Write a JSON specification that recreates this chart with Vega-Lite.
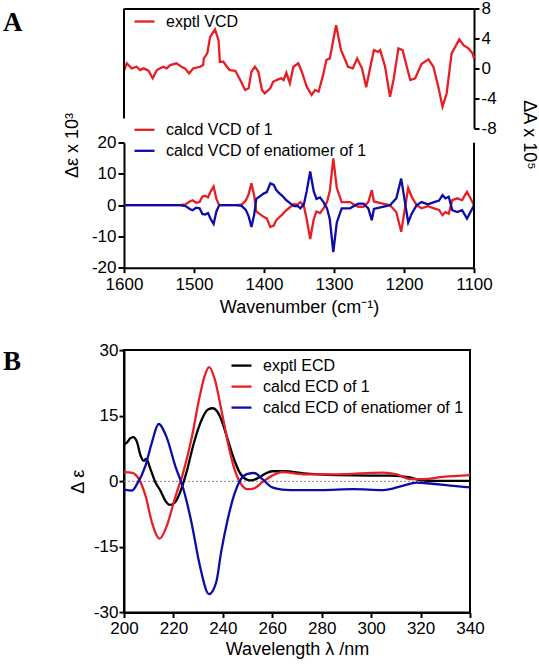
{
  "$schema": "https://vega.github.io/schema/vega-lite/v6.json",
  "autosize": {"type": "none"},
  "padding": {"left": 124, "top": 8.5, "right": 415, "bottom": 656.5},
  "background": "white",
  "bounds": "flush",
  "spacing": 81.6,
  "config": {
    "view": {"stroke": null},
    "axis": {"labelFont": "Liberation Sans", "labelFontSize": 17, "labelColor": "black", "titleFont": "Liberation Sans", "titleFontSize": 18, "titleFontWeight": "normal", "titleColor": "black", "domainColor": "black", "domainWidth": 2, "tickColor": "black", "tickWidth": 2, "tickSize": 5, "grid": false, "labelFlush": false, "labelExpr": "replace(datum.label, '−', '-')"},
    "legend": {"orient": "none", "labelFont": "Liberation Sans", "labelFontSize": 16, "labelColor": "black", "symbolType": "stroke", "symbolStrokeWidth": 2.5, "symbolSize": 400, "labelOffset": 10, "rowPadding": 1, "padding": 0, "labelLimit": 400},
    "line": {"strokeWidth": 2.3}
  },
  "resolve": {"scale": {"color": "independent"}, "legend": {"color": "independent"}},
  "datasets": {
    "exptl": [
      {"wn": 1600, "v": -0.32, "s": "exptl VCD"}, {"wn": 1596, "v": 0.67, "s": "exptl VCD"}, {"wn": 1589, "v": 0, "s": "exptl VCD"}, {"wn": 1582, "v": 0.21, "s": "exptl VCD"}, {"wn": 1577, "v": -0.23, "s": "exptl VCD"}, {"wn": 1572, "v": 0, "s": "exptl VCD"}, {"wn": 1565, "v": -0.32, "s": "exptl VCD"}, {"wn": 1559, "v": -1.33, "s": "exptl VCD"}, {"wn": 1553, "v": -0.23, "s": "exptl VCD"}, {"wn": 1544, "v": 0.21, "s": "exptl VCD"}, {"wn": 1539, "v": 0, "s": "exptl VCD"}, {"wn": 1534, "v": 0.44, "s": "exptl VCD"}, {"wn": 1525, "v": 0.67, "s": "exptl VCD"}, {"wn": 1518, "v": 0.21, "s": "exptl VCD"}, {"wn": 1513, "v": 0, "s": "exptl VCD"}, {"wn": 1507, "v": -0.67, "s": "exptl VCD"}, {"wn": 1501, "v": 0, "s": "exptl VCD"}, {"wn": 1491, "v": 0.21, "s": "exptl VCD"}, {"wn": 1487, "v": 0.44, "s": "exptl VCD"}, {"wn": 1486, "v": 1.33, "s": "exptl VCD"}, {"wn": 1481, "v": 2.0, "s": "exptl VCD"}, {"wn": 1477, "v": 4.21, "s": "exptl VCD"}, {"wn": 1470, "v": 5.2, "s": "exptl VCD"}, {"wn": 1465, "v": 3.77, "s": "exptl VCD"}, {"wn": 1463, "v": 0.88, "s": "exptl VCD"}, {"wn": 1458, "v": 0.88, "s": "exptl VCD"}, {"wn": 1453, "v": 0.21, "s": "exptl VCD"}, {"wn": 1449, "v": -0.23, "s": "exptl VCD"}, {"wn": 1441, "v": -0.32, "s": "exptl VCD"}, {"wn": 1434, "v": -1.56, "s": "exptl VCD"}, {"wn": 1427, "v": -2.89, "s": "exptl VCD"}, {"wn": 1422, "v": -2.67, "s": "exptl VCD"}, {"wn": 1418, "v": -0.45, "s": "exptl VCD"}, {"wn": 1413, "v": 0.21, "s": "exptl VCD"}, {"wn": 1408, "v": -0.45, "s": "exptl VCD"}, {"wn": 1403, "v": -2.89, "s": "exptl VCD"}, {"wn": 1399, "v": -3.33, "s": "exptl VCD"}, {"wn": 1391, "v": -2.67, "s": "exptl VCD"}, {"wn": 1387, "v": -1.79, "s": "exptl VCD"}, {"wn": 1380, "v": -1.47, "s": "exptl VCD"}, {"wn": 1375, "v": -1.33, "s": "exptl VCD"}, {"wn": 1372, "v": -1.56, "s": "exptl VCD"}, {"wn": 1368, "v": -0.59, "s": "exptl VCD"}, {"wn": 1363, "v": -2.0, "s": "exptl VCD"}, {"wn": 1358, "v": 0.21, "s": "exptl VCD"}, {"wn": 1351, "v": 0.67, "s": "exptl VCD"}, {"wn": 1346, "v": -0.45, "s": "exptl VCD"}, {"wn": 1339, "v": -2.45, "s": "exptl VCD"}, {"wn": 1332, "v": -3.56, "s": "exptl VCD"}, {"wn": 1327, "v": -2.89, "s": "exptl VCD"}, {"wn": 1322, "v": -3.12, "s": "exptl VCD"}, {"wn": 1315, "v": -0.67, "s": "exptl VCD"}, {"wn": 1311, "v": 1.11, "s": "exptl VCD"}, {"wn": 1306, "v": 1.33, "s": "exptl VCD"}, {"wn": 1297, "v": 5.77, "s": "exptl VCD"}, {"wn": 1290, "v": 2.44, "s": "exptl VCD"}, {"wn": 1284, "v": 1.11, "s": "exptl VCD"}, {"wn": 1280, "v": 0.21, "s": "exptl VCD"}, {"wn": 1273, "v": 0, "s": "exptl VCD"}, {"wn": 1267, "v": 1.33, "s": "exptl VCD"}, {"wn": 1260, "v": 0, "s": "exptl VCD"}, {"wn": 1254, "v": -2.53, "s": "exptl VCD"}, {"wn": 1249, "v": -0.23, "s": "exptl VCD"}, {"wn": 1243, "v": 2.44, "s": "exptl VCD"}, {"wn": 1237, "v": 2.21, "s": "exptl VCD"}, {"wn": 1234, "v": 2.44, "s": "exptl VCD"}, {"wn": 1227, "v": 0.21, "s": "exptl VCD"}, {"wn": 1220, "v": -3.79, "s": "exptl VCD"}, {"wn": 1215, "v": -1.56, "s": "exptl VCD"}, {"wn": 1208, "v": 2.67, "s": "exptl VCD"}, {"wn": 1202, "v": 2.44, "s": "exptl VCD"}, {"wn": 1196, "v": 0.21, "s": "exptl VCD"}, {"wn": 1191, "v": -1.56, "s": "exptl VCD"}, {"wn": 1184, "v": -1.33, "s": "exptl VCD"}, {"wn": 1175, "v": 0.57, "s": "exptl VCD"}, {"wn": 1165, "v": 1.2, "s": "exptl VCD"}, {"wn": 1158, "v": 0.21, "s": "exptl VCD"}, {"wn": 1151, "v": -2.45, "s": "exptl VCD"}, {"wn": 1145, "v": -5.12, "s": "exptl VCD"}, {"wn": 1139, "v": -3.33, "s": "exptl VCD"}, {"wn": 1132, "v": 2.0, "s": "exptl VCD"}, {"wn": 1121, "v": 3.87, "s": "exptl VCD"}, {"wn": 1115, "v": 3.11, "s": "exptl VCD"}, {"wn": 1108, "v": 2.67, "s": "exptl VCD"}, {"wn": 1102, "v": 2.0, "s": "exptl VCD"}, {"wn": 1100, "v": 1.33, "s": "exptl VCD"}
    ],
    "calcd": [
      {"wn": 1600, "v": 0, "s": "calcd VCD of 1"}, {"wn": 1520, "v": 0, "s": "calcd VCD of 1"}, {"wn": 1512, "v": 0.3, "s": "calcd VCD of 1"}, {"wn": 1506, "v": 1.2, "s": "calcd VCD of 1"}, {"wn": 1502, "v": 1.6, "s": "calcd VCD of 1"}, {"wn": 1497, "v": 0.8, "s": "calcd VCD of 1"}, {"wn": 1492, "v": 1.0, "s": "calcd VCD of 1"}, {"wn": 1488, "v": 2.8, "s": "calcd VCD of 1"}, {"wn": 1484, "v": 3.0, "s": "calcd VCD of 1"}, {"wn": 1480, "v": 2.5, "s": "calcd VCD of 1"}, {"wn": 1476, "v": 4.5, "s": "calcd VCD of 1"}, {"wn": 1472, "v": 6.0, "s": "calcd VCD of 1"}, {"wn": 1468, "v": 2.0, "s": "calcd VCD of 1"}, {"wn": 1464, "v": 0, "s": "calcd VCD of 1"}, {"wn": 1440, "v": 0, "s": "calcd VCD of 1"}, {"wn": 1432, "v": 0.2, "s": "calcd VCD of 1"}, {"wn": 1426, "v": 1.5, "s": "calcd VCD of 1"}, {"wn": 1422, "v": 3.5, "s": "calcd VCD of 1"}, {"wn": 1418, "v": 7.0, "s": "calcd VCD of 1"}, {"wn": 1414, "v": 3.0, "s": "calcd VCD of 1"}, {"wn": 1411, "v": -2.0, "s": "calcd VCD of 1"}, {"wn": 1405, "v": -3.0, "s": "calcd VCD of 1"}, {"wn": 1400, "v": -3.8, "s": "calcd VCD of 1"}, {"wn": 1396, "v": -4.2, "s": "calcd VCD of 1"}, {"wn": 1391, "v": -7.0, "s": "calcd VCD of 1"}, {"wn": 1386, "v": -6.5, "s": "calcd VCD of 1"}, {"wn": 1383, "v": -5.0, "s": "calcd VCD of 1"}, {"wn": 1379, "v": -4.0, "s": "calcd VCD of 1"}, {"wn": 1374, "v": -3.0, "s": "calcd VCD of 1"}, {"wn": 1369, "v": -1.8, "s": "calcd VCD of 1"}, {"wn": 1362, "v": -0.5, "s": "calcd VCD of 1"}, {"wn": 1357, "v": 0.3, "s": "calcd VCD of 1"}, {"wn": 1352, "v": 0.2, "s": "calcd VCD of 1"}, {"wn": 1348, "v": 1.0, "s": "calcd VCD of 1"}, {"wn": 1343, "v": -0.3, "s": "calcd VCD of 1"}, {"wn": 1339, "v": -4.5, "s": "calcd VCD of 1"}, {"wn": 1334, "v": -10.8, "s": "calcd VCD of 1"}, {"wn": 1329, "v": -4.5, "s": "calcd VCD of 1"}, {"wn": 1325, "v": -2.0, "s": "calcd VCD of 1"}, {"wn": 1320, "v": -2.5, "s": "calcd VCD of 1"}, {"wn": 1315, "v": -1.0, "s": "calcd VCD of 1"}, {"wn": 1310, "v": 1.0, "s": "calcd VCD of 1"}, {"wn": 1306, "v": 4.5, "s": "calcd VCD of 1"}, {"wn": 1301, "v": 15.0, "s": "calcd VCD of 1"}, {"wn": 1296, "v": 5.5, "s": "calcd VCD of 1"}, {"wn": 1289, "v": 1.0, "s": "calcd VCD of 1"}, {"wn": 1277, "v": 1.0, "s": "calcd VCD of 1"}, {"wn": 1270, "v": 0, "s": "calcd VCD of 1"}, {"wn": 1265, "v": -0.5, "s": "calcd VCD of 1"}, {"wn": 1258, "v": -0.5, "s": "calcd VCD of 1"}, {"wn": 1251, "v": 1.0, "s": "calcd VCD of 1"}, {"wn": 1246, "v": 4.8, "s": "calcd VCD of 1"}, {"wn": 1243, "v": 1.2, "s": "calcd VCD of 1"}, {"wn": 1232, "v": 0.6, "s": "calcd VCD of 1"}, {"wn": 1220, "v": 0, "s": "calcd VCD of 1"}, {"wn": 1211, "v": -2.2, "s": "calcd VCD of 1"}, {"wn": 1204, "v": -8.5, "s": "calcd VCD of 1"}, {"wn": 1199, "v": -1.5, "s": "calcd VCD of 1"}, {"wn": 1194, "v": 5.5, "s": "calcd VCD of 1"}, {"wn": 1189, "v": 2.7, "s": "calcd VCD of 1"}, {"wn": 1182, "v": 0, "s": "calcd VCD of 1"}, {"wn": 1175, "v": -1.0, "s": "calcd VCD of 1"}, {"wn": 1166, "v": -0.3, "s": "calcd VCD of 1"}, {"wn": 1157, "v": -1.0, "s": "calcd VCD of 1"}, {"wn": 1150, "v": -1.5, "s": "calcd VCD of 1"}, {"wn": 1145, "v": -3.2, "s": "calcd VCD of 1"}, {"wn": 1141, "v": -2.2, "s": "calcd VCD of 1"}, {"wn": 1136, "v": -2.7, "s": "calcd VCD of 1"}, {"wn": 1131, "v": 1.6, "s": "calcd VCD of 1"}, {"wn": 1124, "v": 2.2, "s": "calcd VCD of 1"}, {"wn": 1117, "v": 1.6, "s": "calcd VCD of 1"}, {"wn": 1110, "v": 4.3, "s": "calcd VCD of 1"}, {"wn": 1105, "v": 2.2, "s": "calcd VCD of 1"}, {"wn": 1100, "v": 0, "s": "calcd VCD of 1"},
      {"wn": 1600, "v": 0, "s": "calcd VCD of enatiomer of 1"}, {"wn": 1520, "v": 0, "s": "calcd VCD of enatiomer of 1"}, {"wn": 1512, "v": -0.3, "s": "calcd VCD of enatiomer of 1"}, {"wn": 1506, "v": -1.2, "s": "calcd VCD of enatiomer of 1"}, {"wn": 1502, "v": -1.6, "s": "calcd VCD of enatiomer of 1"}, {"wn": 1497, "v": -0.8, "s": "calcd VCD of enatiomer of 1"}, {"wn": 1492, "v": -1.0, "s": "calcd VCD of enatiomer of 1"}, {"wn": 1488, "v": -2.8, "s": "calcd VCD of enatiomer of 1"}, {"wn": 1484, "v": -3.0, "s": "calcd VCD of enatiomer of 1"}, {"wn": 1480, "v": -2.5, "s": "calcd VCD of enatiomer of 1"}, {"wn": 1476, "v": -4.5, "s": "calcd VCD of enatiomer of 1"}, {"wn": 1472, "v": -6.0, "s": "calcd VCD of enatiomer of 1"}, {"wn": 1468, "v": -2.0, "s": "calcd VCD of enatiomer of 1"}, {"wn": 1464, "v": 0, "s": "calcd VCD of enatiomer of 1"}, {"wn": 1440, "v": 0, "s": "calcd VCD of enatiomer of 1"}, {"wn": 1432, "v": -0.2, "s": "calcd VCD of enatiomer of 1"}, {"wn": 1426, "v": -1.5, "s": "calcd VCD of enatiomer of 1"}, {"wn": 1422, "v": -3.5, "s": "calcd VCD of enatiomer of 1"}, {"wn": 1418, "v": -7.0, "s": "calcd VCD of enatiomer of 1"}, {"wn": 1414, "v": -3.0, "s": "calcd VCD of enatiomer of 1"}, {"wn": 1411, "v": 2.0, "s": "calcd VCD of enatiomer of 1"}, {"wn": 1405, "v": 3.0, "s": "calcd VCD of enatiomer of 1"}, {"wn": 1400, "v": 3.8, "s": "calcd VCD of enatiomer of 1"}, {"wn": 1396, "v": 4.2, "s": "calcd VCD of enatiomer of 1"}, {"wn": 1391, "v": 7.0, "s": "calcd VCD of enatiomer of 1"}, {"wn": 1386, "v": 6.5, "s": "calcd VCD of enatiomer of 1"}, {"wn": 1383, "v": 5.0, "s": "calcd VCD of enatiomer of 1"}, {"wn": 1379, "v": 4.0, "s": "calcd VCD of enatiomer of 1"}, {"wn": 1374, "v": 3.0, "s": "calcd VCD of enatiomer of 1"}, {"wn": 1369, "v": 1.8, "s": "calcd VCD of enatiomer of 1"}, {"wn": 1362, "v": 0.5, "s": "calcd VCD of enatiomer of 1"}, {"wn": 1357, "v": -0.3, "s": "calcd VCD of enatiomer of 1"}, {"wn": 1352, "v": -0.2, "s": "calcd VCD of enatiomer of 1"}, {"wn": 1348, "v": -1.0, "s": "calcd VCD of enatiomer of 1"}, {"wn": 1343, "v": 0.3, "s": "calcd VCD of enatiomer of 1"}, {"wn": 1339, "v": 4.5, "s": "calcd VCD of enatiomer of 1"}, {"wn": 1334, "v": 10.8, "s": "calcd VCD of enatiomer of 1"}, {"wn": 1329, "v": 4.5, "s": "calcd VCD of enatiomer of 1"}, {"wn": 1325, "v": 2.0, "s": "calcd VCD of enatiomer of 1"}, {"wn": 1320, "v": 2.5, "s": "calcd VCD of enatiomer of 1"}, {"wn": 1315, "v": 1.0, "s": "calcd VCD of enatiomer of 1"}, {"wn": 1310, "v": -1.0, "s": "calcd VCD of enatiomer of 1"}, {"wn": 1306, "v": -4.5, "s": "calcd VCD of enatiomer of 1"}, {"wn": 1301, "v": -15.0, "s": "calcd VCD of enatiomer of 1"}, {"wn": 1296, "v": -5.5, "s": "calcd VCD of enatiomer of 1"}, {"wn": 1289, "v": -1.0, "s": "calcd VCD of enatiomer of 1"}, {"wn": 1277, "v": -1.0, "s": "calcd VCD of enatiomer of 1"}, {"wn": 1270, "v": 0, "s": "calcd VCD of enatiomer of 1"}, {"wn": 1265, "v": 0.5, "s": "calcd VCD of enatiomer of 1"}, {"wn": 1258, "v": 0.5, "s": "calcd VCD of enatiomer of 1"}, {"wn": 1251, "v": -1.0, "s": "calcd VCD of enatiomer of 1"}, {"wn": 1246, "v": -4.8, "s": "calcd VCD of enatiomer of 1"}, {"wn": 1243, "v": -1.2, "s": "calcd VCD of enatiomer of 1"}, {"wn": 1232, "v": -0.6, "s": "calcd VCD of enatiomer of 1"}, {"wn": 1220, "v": 0, "s": "calcd VCD of enatiomer of 1"}, {"wn": 1211, "v": 2.2, "s": "calcd VCD of enatiomer of 1"}, {"wn": 1204, "v": 8.5, "s": "calcd VCD of enatiomer of 1"}, {"wn": 1199, "v": 1.5, "s": "calcd VCD of enatiomer of 1"}, {"wn": 1194, "v": -5.5, "s": "calcd VCD of enatiomer of 1"}, {"wn": 1189, "v": -2.7, "s": "calcd VCD of enatiomer of 1"}, {"wn": 1182, "v": 0, "s": "calcd VCD of enatiomer of 1"}, {"wn": 1175, "v": 1.0, "s": "calcd VCD of enatiomer of 1"}, {"wn": 1166, "v": 0.3, "s": "calcd VCD of enatiomer of 1"}, {"wn": 1157, "v": 1.0, "s": "calcd VCD of enatiomer of 1"}, {"wn": 1150, "v": 1.5, "s": "calcd VCD of enatiomer of 1"}, {"wn": 1145, "v": 3.2, "s": "calcd VCD of enatiomer of 1"}, {"wn": 1141, "v": 2.2, "s": "calcd VCD of enatiomer of 1"}, {"wn": 1136, "v": 2.7, "s": "calcd VCD of enatiomer of 1"}, {"wn": 1131, "v": -1.6, "s": "calcd VCD of enatiomer of 1"}, {"wn": 1124, "v": -2.2, "s": "calcd VCD of enatiomer of 1"}, {"wn": 1117, "v": -1.6, "s": "calcd VCD of enatiomer of 1"}, {"wn": 1110, "v": -4.3, "s": "calcd VCD of enatiomer of 1"}, {"wn": 1105, "v": -2.2, "s": "calcd VCD of enatiomer of 1"}, {"wn": 1100, "v": 0, "s": "calcd VCD of enatiomer of 1"}
    ],
    "ecd": [
      {"wl": 200, "v": 8.5, "s": "exptl ECD"}, {"wl": 201.3, "v": 8.9, "s": "exptl ECD"}, {"wl": 202.5, "v": 9.8, "s": "exptl ECD"}, {"wl": 203.7, "v": 10.1, "s": "exptl ECD"}, {"wl": 205.3, "v": 8.9, "s": "exptl ECD"}, {"wl": 206.7, "v": 5.9, "s": "exptl ECD"}, {"wl": 208, "v": 4.7, "s": "exptl ECD"}, {"wl": 209, "v": 5.1, "s": "exptl ECD"}, {"wl": 210.7, "v": 2.8, "s": "exptl ECD"}, {"wl": 212.7, "v": -0.2, "s": "exptl ECD"}, {"wl": 214.7, "v": -2.1, "s": "exptl ECD"}, {"wl": 216.7, "v": -4.4, "s": "exptl ECD"}, {"wl": 218.7, "v": -5.4, "s": "exptl ECD"}, {"wl": 220.7, "v": -4.8, "s": "exptl ECD"}, {"wl": 222.7, "v": -2.5, "s": "exptl ECD"}, {"wl": 225.3, "v": 2.1, "s": "exptl ECD"}, {"wl": 228, "v": 8.2, "s": "exptl ECD"}, {"wl": 231.3, "v": 13.9, "s": "exptl ECD"}, {"wl": 234, "v": 16.4, "s": "exptl ECD"}, {"wl": 236, "v": 16.7, "s": "exptl ECD"}, {"wl": 238.7, "v": 15.0, "s": "exptl ECD"}, {"wl": 241.3, "v": 10.8, "s": "exptl ECD"}, {"wl": 244, "v": 5.9, "s": "exptl ECD"}, {"wl": 246.7, "v": 2.1, "s": "exptl ECD"}, {"wl": 249.3, "v": 0.5, "s": "exptl ECD"}, {"wl": 251.3, "v": 0.2, "s": "exptl ECD"}, {"wl": 254.7, "v": 0.9, "s": "exptl ECD"}, {"wl": 257.3, "v": 1.8, "s": "exptl ECD"}, {"wl": 260, "v": 2.3, "s": "exptl ECD"}, {"wl": 265, "v": 2.3, "s": "exptl ECD"}, {"wl": 272.6, "v": 1.8, "s": "exptl ECD"}, {"wl": 286, "v": 1.4, "s": "exptl ECD"}, {"wl": 299.6, "v": 1.3, "s": "exptl ECD"}, {"wl": 307.6, "v": 1.3, "s": "exptl ECD"}, {"wl": 315.7, "v": 0.9, "s": "exptl ECD"}, {"wl": 319.7, "v": 0.3, "s": "exptl ECD"}, {"wl": 326.5, "v": 0.1, "s": "exptl ECD"}, {"wl": 340, "v": 0.1, "s": "exptl ECD"},
      {"wl": 200, "v": 2.1, "s": "calcd ECD of 1"}, {"wl": 203.3, "v": 1.9, "s": "calcd ECD of 1"}, {"wl": 206, "v": 0.5, "s": "calcd ECD of 1"}, {"wl": 208.7, "v": -3.3, "s": "calcd ECD of 1"}, {"wl": 211.3, "v": -9.4, "s": "calcd ECD of 1"}, {"wl": 214.4, "v": -13.1, "s": "calcd ECD of 1"}, {"wl": 217.3, "v": -10.2, "s": "calcd ECD of 1"}, {"wl": 220.7, "v": -3.7, "s": "calcd ECD of 1"}, {"wl": 224, "v": 2.1, "s": "calcd ECD of 1"}, {"wl": 227.3, "v": 9.7, "s": "calcd ECD of 1"}, {"wl": 230.7, "v": 19.6, "s": "calcd ECD of 1"}, {"wl": 232.7, "v": 24.2, "s": "calcd ECD of 1"}, {"wl": 234.4, "v": 26.1, "s": "calcd ECD of 1"}, {"wl": 236.7, "v": 23.4, "s": "calcd ECD of 1"}, {"wl": 239.3, "v": 16.6, "s": "calcd ECD of 1"}, {"wl": 242, "v": 8.9, "s": "calcd ECD of 1"}, {"wl": 244.7, "v": 2.8, "s": "calcd ECD of 1"}, {"wl": 247.3, "v": -0.6, "s": "calcd ECD of 1"}, {"wl": 250, "v": -1.8, "s": "calcd ECD of 1"}, {"wl": 252.7, "v": -1.6, "s": "calcd ECD of 1"}, {"wl": 256, "v": -0.2, "s": "calcd ECD of 1"}, {"wl": 260, "v": 1.3, "s": "calcd ECD of 1"}, {"wl": 264, "v": 2.1, "s": "calcd ECD of 1"}, {"wl": 272.6, "v": 1.6, "s": "calcd ECD of 1"}, {"wl": 286, "v": 1.6, "s": "calcd ECD of 1"}, {"wl": 304.9, "v": 2.0, "s": "calcd ECD of 1"}, {"wl": 310.3, "v": 1.6, "s": "calcd ECD of 1"}, {"wl": 315.7, "v": 0.5, "s": "calcd ECD of 1"}, {"wl": 321.1, "v": 0.5, "s": "calcd ECD of 1"}, {"wl": 329.1, "v": 1.0, "s": "calcd ECD of 1"}, {"wl": 340, "v": 1.4, "s": "calcd ECD of 1"},
      {"wl": 200, "v": -1.9, "s": "calcd ECD of enatiomer of 1"}, {"wl": 203.3, "v": -2.1, "s": "calcd ECD of enatiomer of 1"}, {"wl": 205.3, "v": -0.6, "s": "calcd ECD of enatiomer of 1"}, {"wl": 208.7, "v": 3.6, "s": "calcd ECD of enatiomer of 1"}, {"wl": 211.3, "v": 8.9, "s": "calcd ECD of enatiomer of 1"}, {"wl": 214, "v": 13.1, "s": "calcd ECD of enatiomer of 1"}, {"wl": 217.3, "v": 10.0, "s": "calcd ECD of enatiomer of 1"}, {"wl": 220.7, "v": 3.6, "s": "calcd ECD of enatiomer of 1"}, {"wl": 224, "v": -1.7, "s": "calcd ECD of enatiomer of 1"}, {"wl": 227.3, "v": -9.4, "s": "calcd ECD of enatiomer of 1"}, {"wl": 230.7, "v": -19.3, "s": "calcd ECD of enatiomer of 1"}, {"wl": 234.4, "v": -25.8, "s": "calcd ECD of enatiomer of 1"}, {"wl": 237.3, "v": -23.1, "s": "calcd ECD of enatiomer of 1"}, {"wl": 239.3, "v": -16.2, "s": "calcd ECD of enatiomer of 1"}, {"wl": 242, "v": -8.6, "s": "calcd ECD of enatiomer of 1"}, {"wl": 244.7, "v": -2.9, "s": "calcd ECD of enatiomer of 1"}, {"wl": 247.3, "v": 0.5, "s": "calcd ECD of enatiomer of 1"}, {"wl": 250, "v": 1.7, "s": "calcd ECD of enatiomer of 1"}, {"wl": 252.7, "v": 1.9, "s": "calcd ECD of enatiomer of 1"}, {"wl": 256, "v": 0.5, "s": "calcd ECD of enatiomer of 1"}, {"wl": 260, "v": -1.4, "s": "calcd ECD of enatiomer of 1"}, {"wl": 264, "v": -1.9, "s": "calcd ECD of enatiomer of 1"}, {"wl": 267.3, "v": -2.0, "s": "calcd ECD of enatiomer of 1"}, {"wl": 279.4, "v": -2.0, "s": "calcd ECD of enatiomer of 1"}, {"wl": 292.8, "v": -1.8, "s": "calcd ECD of enatiomer of 1"}, {"wl": 304.9, "v": -2.0, "s": "calcd ECD of enatiomer of 1"}, {"wl": 313, "v": -1.0, "s": "calcd ECD of enatiomer of 1"}, {"wl": 318.4, "v": -0.3, "s": "calcd ECD of enatiomer of 1"}, {"wl": 323.8, "v": -0.5, "s": "calcd ECD of enatiomer of 1"}, {"wl": 331.9, "v": -1.0, "s": "calcd ECD of enatiomer of 1"}, {"wl": 340, "v": -1.4, "s": "calcd ECD of enatiomer of 1"}
    ]
  },
  "vconcat": [
    {
      "width": 350,
      "height": 259.2,
      "title": {"text": "A", "font": "Liberation Serif", "fontSize": 27, "fontWeight": "bold", "color": "black", "anchor": "start", "frame": "group", "orient": "top", "offset": 0, "baseline": "alphabetic", "dx": -121, "dy": 58.4},
      "resolve": {"scale": {"y": "independent", "color": "independent"}, "axis": {"x": "independent", "y": "independent"}, "legend": {"color": "independent"}},
      "layer": [
        {
          "layer": [
            {
              "data": {"name": "exptl"},
              "mark": {"type": "line", "strokeWidth": 2.3},
              "encoding": {
                "x": {"field": "wn", "type": "quantitative", "scale": {"domain": [1100, 1600], "reverse": true, "nice": false}, "axis": {"orient": "top", "labels": false, "ticks": false, "title": null, "domain": true}},
                "y": {"field": "v", "type": "quantitative", "scale": {"domain": [-8, 8], "range": [119.7, 0], "nice": false, "zero": false}, "axis": {"orient": "right", "values": [-8, -4, 0, 4, 8], "title": "ΔA x 10⁵", "titleAngle": 90, "titleX": 54, "titleY": 126, "titleAlign": "center", "titleBaseline": "middle", "labelPadding": 2}},
                "color": {"field": "s", "type": "nominal", "scale": {"domain": ["exptl VCD"], "range": ["#e81e25"]}, "legend": {"title": null, "legendX": 9, "legendY": 1.5}}
              }
            },
            {
              "data": {"values": [{}]},
              "mark": {"type": "rule", "color": "black", "strokeWidth": 2},
              "encoding": {"x": {"datum": 1600}, "y": {"datum": -6.7}, "y2": {"datum": 8}}
            }
          ]
        },
        {
          "layer": [
            {
              "data": {"name": "calcd"},
              "mark": {"type": "line", "strokeWidth": 2.3},
              "encoding": {
                "x": {"field": "wn", "type": "quantitative", "scale": {"domain": [1100, 1600], "reverse": true, "nice": false}, "axis": {"orient": "bottom", "values": [1600, 1500, 1400, 1300, 1200, 1100], "format": "d", "title": "Wavenumber (cm⁻¹)", "titleY": 40, "titleBaseline": "middle", "labelPadding": 4}},
                "y": {"field": "v", "type": "quantitative", "scale": {"domain": [-20, 20], "range": [259.2, 134.2], "nice": false, "zero": false}, "axis": {"orient": "left", "values": [-20, -10, 0, 10, 20], "title": "Δε x 10³", "titleAngle": 270, "titleX": -52, "titleY": 136.5, "titleAlign": "center", "titleBaseline": "middle", "tickSize": 6, "labelPadding": 2}},
                "color": {"field": "s", "type": "nominal", "scale": {"domain": ["calcd VCD of 1", "calcd VCD of enatiomer of 1"], "range": ["#e81e25", "#0c0caa"]}, "legend": {"title": null, "legendX": 9, "legendY": 109.8}}
              }
            },
            {
              "data": {"values": [{}]},
              "mark": {"type": "rule", "color": "black", "strokeWidth": 2},
              "encoding": {"x": {"datum": 1100}, "y": {"datum": -20}, "y2": {"datum": 20}}
            }
          ]
        }
      ]
    },
    {
      "width": 346,
      "height": 262.4,
      "view": {"stroke": "black", "strokeWidth": 2},
      "title": {"text": "B", "font": "Liberation Serif", "fontSize": 27, "fontWeight": "bold", "color": "black", "anchor": "start", "frame": "group", "orient": "top", "offset": 0, "baseline": "alphabetic", "dx": -121, "dy": 55.5},
      "layer": [
        {
          "data": {"values": [{}]},
          "mark": {"type": "rule", "color": "#808080", "strokeDash": [2, 2], "strokeWidth": 1},
          "encoding": {"y": {"datum": 0}}
        },
        {
          "data": {"name": "ecd"},
          "mark": {"type": "line", "strokeWidth": 2.3, "interpolate": "monotone"},
          "encoding": {
            "x": {"field": "wl", "type": "quantitative", "scale": {"domain": [200, 340], "nice": false}, "axis": {"values": [200, 220, 240, 260, 280, 300, 320, 340], "title": "Wavelength λ  /nm", "titleY": 37, "titleBaseline": "middle", "labelPadding": 3}},
            "y": {"field": "v", "type": "quantitative", "scale": {"domain": [-30, 30], "nice": false}, "axis": {"values": [-30, -15, 0, 15, 30], "title": "Δ ε", "titleAngle": 270, "titleX": -46, "titleY": 131.2, "titleAlign": "center", "titleBaseline": "middle", "labelPadding": 1}},
            "color": {"field": "s", "type": "nominal", "scale": {"domain": ["exptl ECD", "calcd ECD of 1", "calcd ECD of enatiomer of 1"], "range": ["black", "#e81e25", "#0c0caa"]}, "legend": {"title": null, "legendX": 106, "legendY": 4}}
          }
        }
      ]
    }
  ]
}
